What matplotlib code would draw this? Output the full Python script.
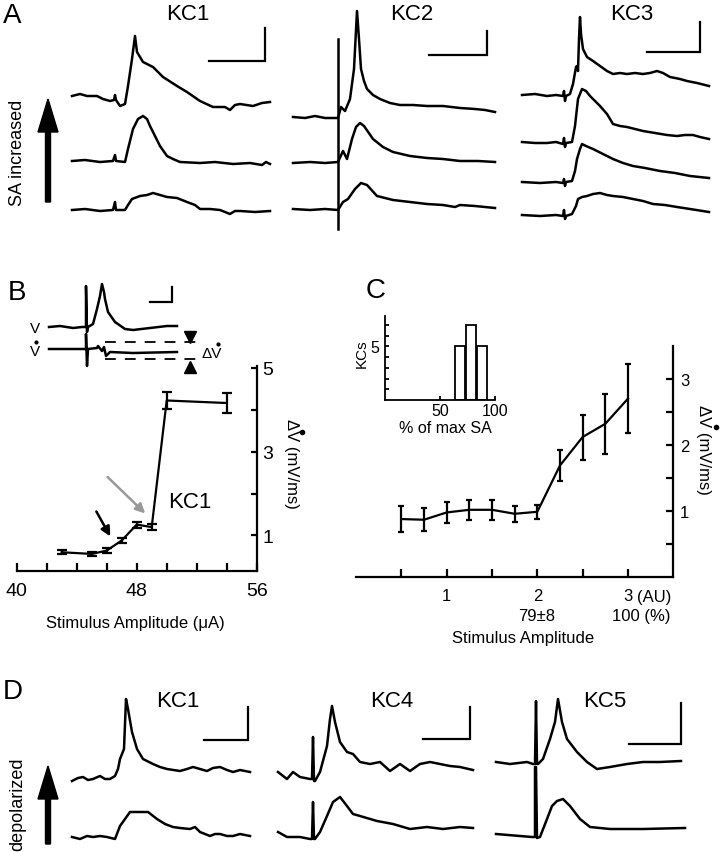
import numpy as np
import matplotlib.pyplot as plt

plt.rcParams['font.family'] = ['Liberation Sans', 'DejaVu Sans']

W, H = 721, 853

# ---------------- panel A traces (t: time offset, v: deflection from baseline) -------------
a1_top_t = [0, 8, 15, 25, 31, 38, 42, 43, 44, 48, 53, 56, 60, 63, 65, 71, 81, 91, 105, 115,
            128, 141, 153, 158, 163, 168, 181, 190, 198]
a1_top_v = [0, 2, 0, 0, -3, -5, -4, 1, -4, -10, -8, 10, 37, 60, 44, 34, 29, 19, 10, 4,
            -5, -11, -11, -14, -9, -8, -10, -7, -6]
a1_mid_t = [0, 13, 28, 41, 43, 44, 53, 56, 61, 66, 71, 75, 78, 83, 88, 95, 101, 108, 128, 143,
            161, 178, 190, 194, 198]
a1_mid_v = [0, 1, -1, 0, 6, 0, -1, 12, 32, 42, 45, 42, 35, 25, 15, 5, 2, -1, -2, -1,
            -3, -2, -4, -1, -3]
a1_bot_t = [0, 13, 28, 41, 43, 44, 53, 56, 60, 68, 75, 81, 88, 95, 105, 115, 123, 128, 138, 148,
            158, 163, 168, 183, 198]
a1_bot_v = [0, 1, -1, 0, 8, 0, 0, 5, 11, 14, 15, 17, 15, 13, 12, 8, 5, 1, 1, 0,
            -4, -1, -1, -2, -1]

a2_top_t = [0, 12, 22, 32, 40, 45, 48, 52, 57, 61, 64, 66, 68, 71, 74, 80, 87, 97, 107, 120,
            134, 150, 167, 182, 192, 202]
a2_top_v = [0, -1, 1, -1, -1, -1, 10, 6, 18, 48, 106, 78, 48, 36, 28, 22, 18, 14, 12, 12,
            11, 11, 9, 8, 7, 5]
a2_mid_t = [0, 17, 32, 45, 50, 54, 59, 63, 67, 71, 80, 90, 100, 117, 134, 150, 167, 185, 202]
a2_mid_v = [-1, 0, -1, 0, 11, 3, 23, 35, 39, 36, 23, 15, 10, 6, 4, 3, 1, 1, 0]
a2_bot_t = [0, 17, 32, 45, 50, 55, 62, 68, 74, 84, 92, 100, 117, 134, 150, 162, 167, 182, 202]
a2_bot_v = [0, -1, 0, -1, 7, 10, 20, 26, 24, 13, 11, 9, 7, 5, 4, 2, 4, 3, 1]
a2_stim_t = 45
a2_stim_v = [78, -112]

a3_1_t = [0, 13, 25, 34, 41, 42, 43, 44, 48, 51, 54, 55, 56, 57, 58, 59, 61, 65, 71, 78,
          85, 91, 98, 105, 113, 121, 128, 135, 141, 148, 158, 165, 175, 187]
a3_1_v = [0, 1, -1, 0, -1, 4, -6, -1, 1, 11, 28, 29, 24, 56, 78, 61, 46, 38, 34, 29,
          24, 21, 22, 21, 22, 21, 22, 24, 22, 18, 16, 14, 12, 9]
a3_2_t = [0, 13, 25, 34, 41, 42, 43, 44, 50, 53, 56, 60, 64, 68, 73, 78, 85, 91, 98, 105,
          113, 121, 133, 145, 155, 163, 171, 178, 187]
a3_2_v = [0, -1, -1, 0, -2, 4, -5, -1, 0, 16, 43, 53, 51, 46, 41, 36, 28, 18, 16, 15,
          13, 11, 9, 7, 6, 7, 7, 5, 3]
a3_3_t = [0, 18, 34, 41, 42, 43, 44, 50, 53, 55, 58, 60, 64, 71, 81, 91, 101, 111, 123, 138,
          153, 168, 187]
a3_3_v = [0, -1, 0, -1, 3, -4, 0, 1, 11, 23, 33, 38, 36, 33, 28, 23, 19, 16, 14, 11,
          9, 6, 4]
a3_4_t = [0, 18, 34, 41, 42, 43, 44, 50, 54, 56, 60, 65, 71, 78, 85, 91, 101, 111, 121, 131,
          143, 155, 168, 187]
a3_4_v = [0, -1, 0, -1, 5, -4, -1, 1, 9, 16, 18, 19, 21, 22, 20, 19, 18, 16, 14, 11,
          10, 8, 6, 3]

# ---------------- panel B ----------------
bv_t = [0, 11, 24, 33, 37, 37, 38, 39, 44, 48, 51, 53, 55, 56, 59, 66, 76, 84, 101, 118, 128]
bv_v = [0, 1, -1, 0, 0, 41, -5, 0, 3, 18, 31, 43, 35, 28, 15, 5, -2, -3, -1, 1, 1]
bdv_t = [0, 33, 37, 37, 38, 39, 48, 49, 53, 55, 57, 61, 84, 128]
bdv_v = [0, 0, 0, 15, -17, 0, 1, 3, -2, 2, -7, -3, -4, -3]

b_amp = [43, 45, 46, 47, 48, 49, 50, 54]
b_dv = [0.60, 0.56, 0.64, 0.88, 1.26, 1.20, 4.22, 4.16]
b_err = [0.05, 0.04, 0.05, 0.07, 0.07, 0.08, 0.21, 0.24]

# ---------------- panel C ----------------
c_amp = [0.5, 0.75, 1.0, 1.25, 1.5, 1.75, 2.0, 2.25, 2.5, 2.75, 3.0]
c_dv = [0.88, 0.87, 0.98, 1.02, 1.02, 0.96, 0.99, 1.69, 2.12, 2.32, 2.70]
c_err = [0.20, 0.17, 0.16, 0.15, 0.15, 0.12, 0.11, 0.23, 0.34, 0.45, 0.52]

hist_pct = [68, 78, 88]
hist_n = [5, 7, 5]

# ---------------- panel D traces ----------------
d1_top_t = [0, 6, 11, 16, 21, 28, 33, 38, 43, 46, 48, 52, 54, 56, 60, 65, 71, 81, 88, 95,
            108, 115, 121, 128, 135, 141, 148, 155, 161, 168, 178]
d1_top_v = [-2, 1, 2, -1, 0, 3, 0, 0, 3, 10, 20, 30, 80, 70, 47, 30, 20, 15, 12, 10,
            8, 10, 12, 10, 8, 11, 12, 9, 7, 9, 7]
d1_bot_t = [0, 8, 15, 21, 28, 35, 43, 48, 53, 58, 68, 76, 85, 93, 101, 108, 118, 123, 128, 138,
            143, 148, 155, 161, 168, 178]
d1_bot_v = [0, -2, 1, 0, 1, 0, -2, 11, 18, 25, 25, 25, 18, 13, 10, 9, 8, 10, 5, 1,
            3, 3, 1, 1, 3, 1]
d4_top_t = [0, 9, 15, 22, 32, 34, 35, 36, 37, 42, 49, 52, 54, 57, 62, 69, 75, 82, 92, 102,
            112, 122, 132, 142, 152, 162, 172, 182, 195]
d4_top_v = [5, -2, 5, 0, -2, -2, 40, -4, -4, 5, 31, 58, 71, 55, 35, 25, 23, 15, 13, 15,
            6, 13, 6, 13, 15, 13, 11, 10, 7]
d4_bot_t = [0, 9, 22, 32, 34, 35, 36, 37, 42, 49, 55, 62, 69, 75, 82, 99, 115, 132, 149, 165,
            182, 195]
d4_bot_v = [5, 0, 0, -2, -2, 35, -2, -2, 5, 21, 35, 40, 31, 23, 21, 16, 13, 8, 10, 8,
            10, 9]
d5_top_t = [0, 14, 31, 37, 39, 40, 41, 42, 47, 54, 59, 62, 66, 71, 81, 91, 101, 114, 131, 147,
            164, 185]
d5_top_v = [1, -1, 1, -1, -1, 62, -1, -1, 4, 24, 41, 64, 41, 24, 11, 1, -6, -4, -1, 1,
            1, 2]
d5_bot_t = [0, 24, 36, 39, 39, 40, 41, 44, 51, 56, 61, 67, 74, 84, 94, 114, 147, 189]
d5_bot_v = [0, -2, -3, -3, 67, 67, -4, -3, 15, 28, 33, 35, 28, 15, 7, 5, 5, 6]


def rect(x0, y0, x1, y1):
    return [x0 / W, 1 - y1 / H, (x1 - x0) / W, (y1 - y0) / H]


fig = plt.figure(figsize=(W / 100, H / 100), dpi=100)
cv = fig.add_axes([0, 0, 1, 1])
cv.set_xlim(0, W)
cv.set_ylim(H, 0)
cv.axis('off')

LW = 1.8   # traces
ALW = 1.6  # axes / error bars


def trace(t, v, x0, y0):
    cv.plot(np.asarray(t) + x0, y0 - np.asarray(v), color='k', lw=LW,
            solid_joinstyle='round')


def scalebar(xa, xb, y, ytop):
    cv.plot([xa, xb, xb], [y, y, ytop], color='k', lw=ALW, solid_joinstyle='miter')


def label(x, y, s, size, **kw):
    kw.setdefault('ha', 'center')
    kw.setdefault('va', 'baseline')
    cv.text(x, y, s, fontsize=size, **kw)


# ---- A ----
trace(a1_top_t, a1_top_v, 72, 97)
trace(a1_mid_t, a1_mid_v, 72, 162)
trace(a1_bot_t, a1_bot_v, 72, 211)
trace(a2_top_t, a2_top_v, 293, 118)
trace(a2_mid_t, a2_mid_v, 293, 163)
trace(a2_bot_t, a2_bot_v, 293, 210)
cv.plot([293 + a2_stim_t] * 2, 118 - np.array(a2_stim_v), color='k', lw=LW)
trace(a3_1_t, a3_1_v, 522, 96)
trace(a3_2_t, a3_2_v, 522, 143)
trace(a3_3_t, a3_3_v, 522, 183)
trace(a3_4_t, a3_4_v, 522, 216)
scalebar(209, 265, 62, 29)
scalebar(429, 487, 56, 32)
scalebar(647, 700, 53, 23)

label(12, 23, 'A', 20)
label(188, 20, 'KC1', 16)
label(412, 20, 'KC2', 16)
label(632, 20, 'KC3', 16)
label(18, 153, 'SA increased', 13, rotation=90, va='center')
cv.arrow(48, 203, 0, -103, width=5, head_width=20, head_length=33,
         length_includes_head=True, color='k')

# ---- B inset ----
trace(bv_t, bv_v, 49, 328)
trace(bdv_t, bdv_v, 49, 350)
scalebar(150, 172, 303, 288)
cv.plot([105, 204], [343, 343], color='k', lw=1.3, dashes=(6, 5))
cv.plot([105, 204], [360, 360], color='k', lw=1.3, dashes=(6, 5))
cv.plot([190], [338], marker='v', color='k', ms=8)
cv.plot([190], [368], marker='^', color='k', ms=8)
label(35, 333, 'V', 11)
label(35, 356, 'V', 11)
cv.plot([35.5], [343], marker='o', color='k', ms=2)
label(212, 358, 'ΔV', 11)
cv.plot([218], [345], marker='o', color='k', ms=2)
label(17, 300, 'B', 20)

# ---- B main ----
axB = fig.add_axes(rect(16.7, 366.7, 256.7, 571.7))
axB.patch.set_alpha(0)
axB.errorbar(b_amp, b_dv, yerr=b_err, color='k', lw=ALW, elinewidth=ALW,
             capsize=3.5, capthick=ALW)
axB.set_xlim(40, 56)
axB.set_ylim(0.16, 5.05)
for s in ['top', 'left']:
    axB.spines[s].set_visible(False)
for s in ['bottom', 'right']:
    axB.spines[s].set_linewidth(ALW)
axB.set_xticks(np.arange(40, 57, 2))
axB.set_xticklabels(['40', '', '', '', '48', '', '', '', '56'])
axB.yaxis.tick_right()
axB.set_yticks([1, 2, 3, 4, 5])
axB.set_yticklabels(['1', '', '3', '', '5'])
axB.tick_params(axis='x', direction='in', length=6, width=ALW, labelsize=14, pad=8)
axB.tick_params(axis='y', direction='in', length=4, width=ALW, labelsize=14, pad=4)
axB.annotate('', xy=(46.33, 0.92), xytext=(45.22, 1.63),
             arrowprops=dict(arrowstyle='-|>', color='k', lw=1.8, mutation_scale=14))
axB.annotate('', xy=(48.7, 1.48), xytext=(45.93, 2.44),
             arrowprops=dict(arrowstyle='-|>', color='#999999', lw=1.8, mutation_scale=14))
label(190, 508, 'KC1', 16)
label(135, 628, 'Stimulus Amplitude (μA)', 12)
label(292, 464, 'ΔV (mV/ms)', 12, rotation=270, va='center')
cv.plot([302], [433], marker='o', color='k', ms=3)

# ---- C main ----
axC = fig.add_axes(rect(356, 346.7, 673.3, 578.3))
axC.patch.set_alpha(0)
axC.errorbar(c_amp, c_dv, yerr=c_err, color='k', lw=ALW, elinewidth=ALW,
             capsize=2.5, capthick=ALW)
axC.set_xlim(0, 3.5)
axC.set_ylim(0, 3.5)
for s in ['top', 'left']:
    axC.spines[s].set_visible(False)
for s in ['bottom', 'right']:
    axC.spines[s].set_linewidth(ALW)
axC.set_xticks([0.5, 1, 1.5, 2, 2.5, 3])
axC.set_xticklabels(['', '1', '', '2', '', '3'])
axC.yaxis.tick_right()
axC.set_yticks([0.5, 1, 1.5, 2, 2.5, 3])
axC.set_yticklabels(['', '1', '', '2', '', '3'])
axC.tick_params(axis='x', direction='in', length=6, width=ALW, labelsize=12, pad=8)
axC.tick_params(axis='y', direction='in', length=5, width=ALW, labelsize=12, pad=5)
label(637, 602, '(AU)', 12, ha='left')
label(537, 621, '79±8', 12)
label(612.5, 621, '100 (%)', 12, ha='left')
label(523, 643, 'Stimulus Amplitude', 12)
label(704, 450, 'ΔV (mV/ms)', 12, rotation=270, va='center')
cv.plot([716], [428], marker='o', color='k', ms=3)
label(376, 298, 'C', 20)

# ---- C inset histogram ----
axI = fig.add_axes(rect(385, 317, 495, 401))
axI.patch.set_alpha(0)
axI.bar(hist_pct, hist_n, width=9, color='white', edgecolor='k', lw=1.3)
axI.set_xlim(0, 100)
axI.set_ylim(0, 7.85)
for s in ['top', 'right']:
    axI.spines[s].set_visible(False)
for s in ['bottom', 'left']:
    axI.spines[s].set_linewidth(1.3)
axI.set_xticks([50, 100])
axI.set_yticks(range(1, 8))
axI.set_yticklabels(['', '', '', '', '5', '', ''])
axI.tick_params(direction='in', length=3, width=1.3, labelsize=11.5, pad=2)
axI.tick_params(axis='y', pad=4)
label(362, 354, 'KCs', 11, rotation=90, va='center')
label(445, 433, '% of max SA', 11.5)

# ---- D ----
trace(d1_top_t, d1_top_v, 72, 780)
trace(d1_bot_t, d1_bot_v, 72, 838)
trace(d4_top_t, d4_top_v, 278, 778)
trace(d4_bot_t, d4_bot_v, 278, 838)
trace(d5_top_t, d5_top_v, 496, 764)
trace(d5_bot_t, d5_bot_v, 496, 835)
scalebar(204, 248, 741, 708)
scalebar(423, 470, 740, 708)
scalebar(629, 681, 745, 704)
label(13, 699, 'D', 20)
label(178, 707, 'KC1', 16)
label(392, 707, 'KC4', 16)
label(605, 707, 'KC5', 16)
label(18, 804, 'depolarized', 13, rotation=90, va='center')
cv.arrow(48, 845, 0, -78, width=5, head_width=20, head_length=33,
         length_includes_head=True, color='k')

fig.savefig('out.png', dpi=100)
